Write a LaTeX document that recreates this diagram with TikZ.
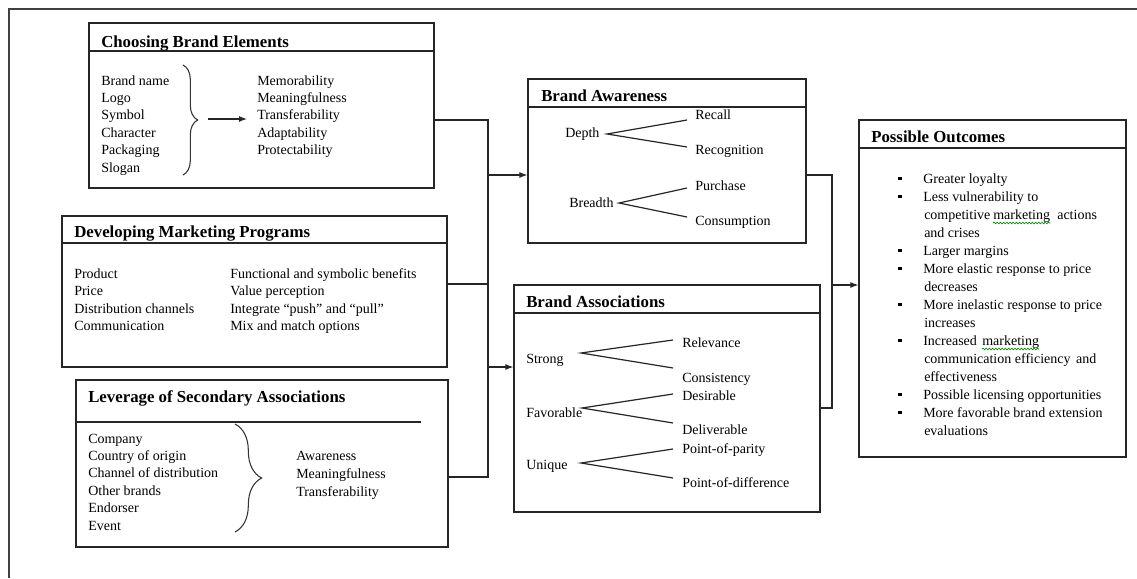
\documentclass[tikz,border=0pt]{standalone}
\usepackage{fontspec}
\setmainfont{Liberation Serif}
\usetikzlibrary{fit,calc,arrows.meta,decorations.pathreplacing,decorations.pathmorphing}

\begin{document}
\begin{tikzpicture}[x=0.75pt,y=-0.75pt,
  box/.style={draw=black!85, line width=1pt, inner sep=0pt},
  rule/.style={draw=black!85, line width=1pt},
  wire/.style={draw=black!85, line width=0.8pt},
  arr/.style={wire, -{Latex[length=6pt,width=4.5pt]}},
  txt/.style={anchor=base west, inner sep=0pt, font=\fontsize{10.5}{12.6}\selectfont},
  ttl/.style={anchor=base west, inner sep=0pt, font=\fontsize{12.6}{14}\selectfont\bfseries},
  fork/.style={draw=black!85, line width=0.9pt},
  brc/.style={draw=black!80, line width=0.8pt, decorate},
  dot/.style={fill=black, inner sep=0pt, minimum size=2.3pt},
  squig/.style={draw=green!55!black, line width=0.5pt, decorate,
    decoration={snake, amplitude=0.6pt, segment length=2.4pt}}
]
\useasboundingbox (0,0) rectangle (1137,578);
\fill[white] (0,0) rectangle (1137,578);

% page frame
\draw[draw=black!75, line width=1.5pt] (1137,9) -- (9,9) -- (9,578);

% ---------- Choosing Brand Elements ----------
\node[box, fit={(89,23) (434,188)}] (b1) {};
\draw[rule] (89,51) -- (434,51);
\node[ttl] (t1) at (101,47) {Choosing Brand Elements};
\foreach \s [count=\i from 0] in {Brand name, Logo, Symbol, Character, Packaging, Slogan}
  \node[txt] (e\i) at (101,{85+17.4*\i}) {\s};
\draw[brc, decoration={brace, amplitude=11pt}] (183,65) -- (183,175);
\draw[arr] (208,119) -- (247,119);
\foreach \s [count=\i from 0] in {Memorability, Meaningfulness, Transferability, Adaptability, Protectability}
  \node[txt] (c\i) at (257,{85+17.4*\i}) {\s};

% ---------- Developing Marketing Programs ----------
\node[box, fit={(62,216) (447,367)}] (b2) {};
\draw[rule] (62,243) -- (447,243);
\node[ttl] (t2) at (74,237) {Developing Marketing Programs};
\foreach \s [count=\i from 0] in {Product, Price, Distribution channels, Communication}
  \node[txt] (p\i) at (74,{278+17.5*\i}) {\s};
\foreach \s [count=\i from 0] in {Functional and symbolic benefits, Value perception,
    Integrate “push” and “pull”, Mix and match options}
  \node[txt] (q\i) at (230,{278+17.5*\i}) {\s};

% ---------- Leverage of Secondary Associations ----------
\node[box, fit={(76,380) (448,547)}] (b3) {};
\draw[rule] (76,422) -- (421,422);
\node[ttl] (t3) at (88,402) {Leverage of Secondary Associations};
\foreach \s [count=\i from 0] in {Company, Country of origin, Channel of distribution, Other brands, Endorser, Event}
  \node[txt] (s\i) at (88,{443+17.4*\i}) {\s};
\draw[brc, decoration={brace, amplitude=20pt}] (235,424) -- (235,532);
\foreach \s [count=\i from 0] in {Awareness, Meaningfulness, Transferability}
  \node[txt] (r\i) at (296,{460+18*\i}) {\s};

% ---------- Brand Awareness ----------
\node[box, fit={(528,79) (806,243)}] (b4) {};
\draw[rule] (528,107) -- (806,107);
\node[ttl] (t4) at (541,101) {Brand Awareness};
\node[txt] (dep) at (565,137) {Depth};
\node[txt] (rec) at (695,119) {Recall};
\node[txt] (rcg) at (695,154) {Recognition};
\node[txt] (brd) at (569,207) {Breadth};
\node[txt] (pur) at (695,190) {Purchase};
\node[txt] (con) at (695,225) {Consumption};
\draw[fork] (687,120) -- (607,134) -- (687,147);
\draw[fork] (687,188) -- (619,203) -- (687,217);

% ---------- Brand Associations ----------
\node[box, fit={(514,285) (820,512)}] (b5) {};
\draw[rule] (514,313) -- (820,313);
\node[ttl] (t5) at (526,307) {Brand Associations};
\node[txt] (str) at (526,363) {Strong};
\node[txt] (rel) at (682,347) {Relevance};
\node[txt] (cns) at (682,382) {Consistency};
\node[txt] (fav) at (526,417) {Favorable};
\node[txt] (des) at (682,400) {Desirable};
\node[txt] (del) at (682,434) {Deliverable};
\node[txt] (uni) at (526,469) {Unique};
\node[txt] (pop) at (682,453) {Point-of-parity};
\node[txt] (pod) at (682,487) {Point-of-difference};
\draw[fork] (673,340) -- (581,353) -- (673,368);
\draw[fork] (673,394) -- (582,408) -- (673,423);
\draw[fork] (673,449) -- (581,463) -- (673,478);

% ---------- Possible Outcomes ----------
\node[box, fit={(859,120) (1126,457)}] (b6) {};
\draw[rule] (859,148) -- (1126,148);
\node[ttl] (t6) at (871,142) {Possible Outcomes};
\foreach \k in {0,1,4,5,7,9,12,13}
  \node[dot] at (900,{178.5+18*\k}) {};
\node[txt] (o0)  at (923,183) {Greater loyalty};
\node[txt] (o1)  at (923,201) {Less vulnerability to};
\node[txt] (o2a) at (924,219) {competitive};
\node[txt] (mk1) at (993,219) {marketing};
\node[txt] (o2c) at (1057,219) {actions};
\node[txt] (o3)  at (924,237) {and crises};
\node[txt] (o4)  at (923,255) {Larger margins};
\node[txt] (o5)  at (923,273) {More elastic response to price};
\node[txt] (o6)  at (924,291) {decreases};
\node[txt] (o7)  at (923,309) {More inelastic response to price};
\node[txt] (o8)  at (924,327) {increases};
\node[txt] (o9a) at (923,345) {Increased};
\node[txt] (mk2) at (982,345) {marketing};
\node[txt] (o10) at (924,363) {communication efficiency\hspace{0.4em}and};
\node[txt] (o11) at (924,381) {effectiveness};
\node[txt] (o12) at (923,399) {Possible licensing opportunities};
\node[txt] (o13) at (923,417) {More favorable brand extension};
\node[txt] (o14) at (924,435) {evaluations};
\draw[squig] ($(mk1.base west)+(0,4)$) -- ($(mk1.base east)+(0,4)$);
\draw[squig] ($(mk2.base west)+(0,4)$) -- ($(mk2.base east)+(0,4)$);

% ---------- connectors ----------
\coordinate (ya) at (0,120);
\coordinate (yb) at (0,284);
\coordinate (yc) at (0,477);
\coordinate (jl) at (488,175);
\coordinate (jm) at (488,367);
\coordinate (yd) at (0,175);
\coordinate (ye) at (0,408);
\coordinate (jr) at (832,285);

\draw[wire] (b1.east |- ya) -| (jl) -- (jm) |- (b3.east |- yc);
\draw[wire] (b2.east |- yb) -- (jl |- yb);
\draw[arr] (jl) -- (b4.west |- jl);
\draw[arr] (jm) -- (b5.west |- jm);
\draw[wire] (b4.east |- yd) -| (jr) |- (b5.east |- ye);
\draw[arr] (jr) -- (b6.west |- jr);
\end{tikzpicture}
\end{document}
